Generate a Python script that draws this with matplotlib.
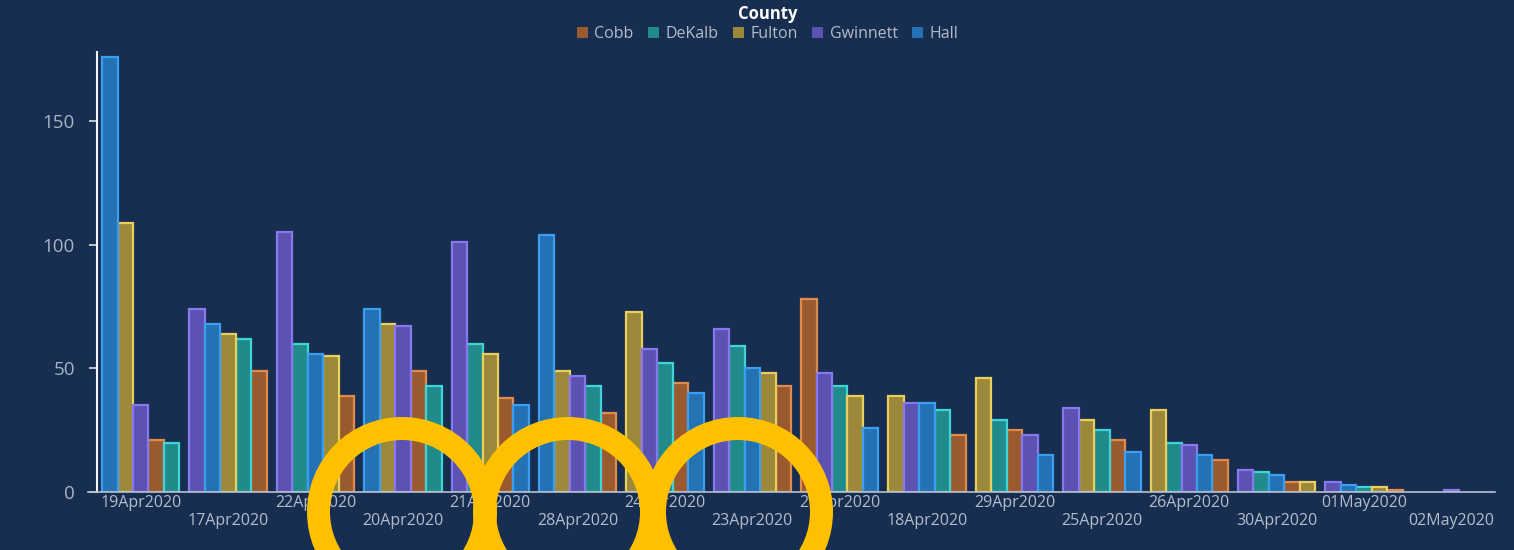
import numpy as np
import matplotlib
matplotlib.use("Agg")
import matplotlib.pyplot as plt
import matplotlib.patches as patches

dates = ["19Apr2020", "17Apr2020", "22Apr2020", "20Apr2020", "21Apr2020", "28Apr2020",
         "24Apr2020", "23Apr2020", "27Apr2020", "18Apr2020", "29Apr2020", "25Apr2020",
         "26Apr2020", "30Apr2020", "01May2020", "02May2020"]
counties = ["Cobb", "DeKalb", "Fulton", "Gwinnett", "Hall"]

cobb = [21, 49, 39, 49, 38, 32, 44, 43, 78, 23, 25, 21, 13, 4, 1, 0]
dekalb = [20, 62, 60, 43, 60, 43, 52, 59, 43, 33, 29, 25, 20, 8, 2, 0]
fulton = [109, 64, 55, 68, 56, 49, 73, 48, 39, 39, 46, 29, 33, 4, 2, 0]
gwinnett = [35, 74, 105, 67, 101, 47, 58, 66, 48, 36, 23, 34, 19, 9, 4, 1]
hall = [176, 68, 56, 74, 35, 104, 40, 50, 26, 36, 15, 16, 15, 7, 3, 0]

# slot order of the bars inside each date group
bar_order = [
    ["Hall", "Fulton", "Gwinnett", "Cobb", "DeKalb"],
    ["Gwinnett", "Hall", "Fulton", "DeKalb", "Cobb"],
    ["Gwinnett", "DeKalb", "Hall", "Fulton", "Cobb"],
    ["Hall", "Fulton", "Gwinnett", "Cobb", "DeKalb"],
    ["Gwinnett", "DeKalb", "Fulton", "Cobb", "Hall"],
    ["Hall", "Fulton", "Gwinnett", "DeKalb", "Cobb"],
    ["Fulton", "Gwinnett", "DeKalb", "Cobb", "Hall"],
    ["Gwinnett", "DeKalb", "Hall", "Fulton", "Cobb"],
    ["Cobb", "Gwinnett", "DeKalb", "Fulton", "Hall"],
    ["Fulton", "Gwinnett", "Hall", "DeKalb", "Cobb"],
    ["Fulton", "DeKalb", "Cobb", "Gwinnett", "Hall"],
    ["Gwinnett", "Fulton", "DeKalb", "Cobb", "Hall"],
    ["Fulton", "DeKalb", "Gwinnett", "Hall", "Cobb"],
    ["Gwinnett", "DeKalb", "Hall", "Cobb", "Fulton"],
    ["Gwinnett", "Hall", "DeKalb", "Fulton", "Cobb"],
    ["Hall", "Fulton", "Gwinnett", "Cobb", "DeKalb"],
]

values = {"Cobb": cobb, "DeKalb": dekalb, "Fulton": fulton, "Gwinnett": gwinnett, "Hall": hall}
fills = {"Cobb": "#9a5a2f", "DeKalb": "#218b8c", "Fulton": "#9b8838",
         "Gwinnett": "#5c52b2", "Hall": "#2472b4"}
edges = {"Cobb": "#e08a4c", "DeKalb": "#3fd4d8", "Fulton": "#e8cf5e",
         "Gwinnett": "#8878f0", "Hall": "#3a9ef2"}

bg = "#172e50"
plt.rcParams['font.family'] = ['Open Sans', 'DejaVu Sans']

fig = plt.figure(figsize=(15.14, 5.5), dpi=100, facecolor=bg)
ax = fig.add_axes([0.0641, 0.1055, 0.9234, 0.8])
ax.set_facecolor(bg)

w = 0.177
for c in counties:
    xs, hs = [], []
    for g, order in enumerate(bar_order):
        v = values[c][g]
        if v <= 0:
            continue
        slot = order.index(c)
        xs.append(g + (slot - 2) * w)
        hs.append(v)
    ax.bar(xs, hs, width=w, color=fills[c], edgecolor=edges[c], linewidth=1.6, label=c)

ax.set_xlim(-0.5, len(dates) - 0.5)
ax.set_ylim(0, 178)
ax.set_yticks([0, 50, 100, 150])
ax.set_xticks(range(len(dates)))
ax.set_xticklabels([d if i % 2 == 0 else "\n" + d for i, d in enumerate(dates)])
ax.tick_params(axis='x', length=0, pad=2, labelsize=11.5, labelcolor="#b4bccb")
ax.tick_params(axis='y', length=6, width=1.2, color="#d8dde6", pad=10,
               labelsize=13.5, labelcolor="#a9b3c6")
for lbl in ax.get_xticklabels():
    lbl.set_linespacing(1.15)
for s in ["top", "right"]:
    ax.spines[s].set_visible(False)
ax.spines["left"].set_color("#f2f4f8")
ax.spines["left"].set_linewidth(1.5)
ax.spines["bottom"].set_color("#b9c0cc")
ax.spines["bottom"].set_linewidth(1.2)
ax.spines["bottom"].set_bounds(-0.6, len(dates) - 0.5)
ax.spines["bottom"].set_clip_on(False)

handles = [patches.Patch(facecolor=fills[c], edgecolor='none', label=c) for c in counties]
leg = fig.legend(handles=handles, loc="upper center", bbox_to_anchor=(0.507, 1.012), ncol=5,
                 frameon=False, title="County", fontsize=11.5, handlelength=0.7,
                 handleheight=0.7, handletextpad=0.4, columnspacing=0.9, borderpad=0.2,
                 labelspacing=0.2)
leg.get_title().set_color("white")
leg.get_title().set_fontweight("bold")
leg.get_title().set_fontsize(12)
for t in leg.get_texts():
    t.set_color("#b4bccb")

# yellow highlight rings
W, H = 1514, 550
for cx in [402, 568, 738]:
    ring = patches.Ellipse((cx / W, 1 - 512 / H), 2 * 83.5 / W, 2 * 83.5 / H,
                           transform=fig.transFigure, fill=False, edgecolor="#ffc000",
                           linewidth=23 * 0.72, zorder=10)
    fig.patches.append(ring)

fig.savefig("out.png", dpi=100, facecolor=bg)
